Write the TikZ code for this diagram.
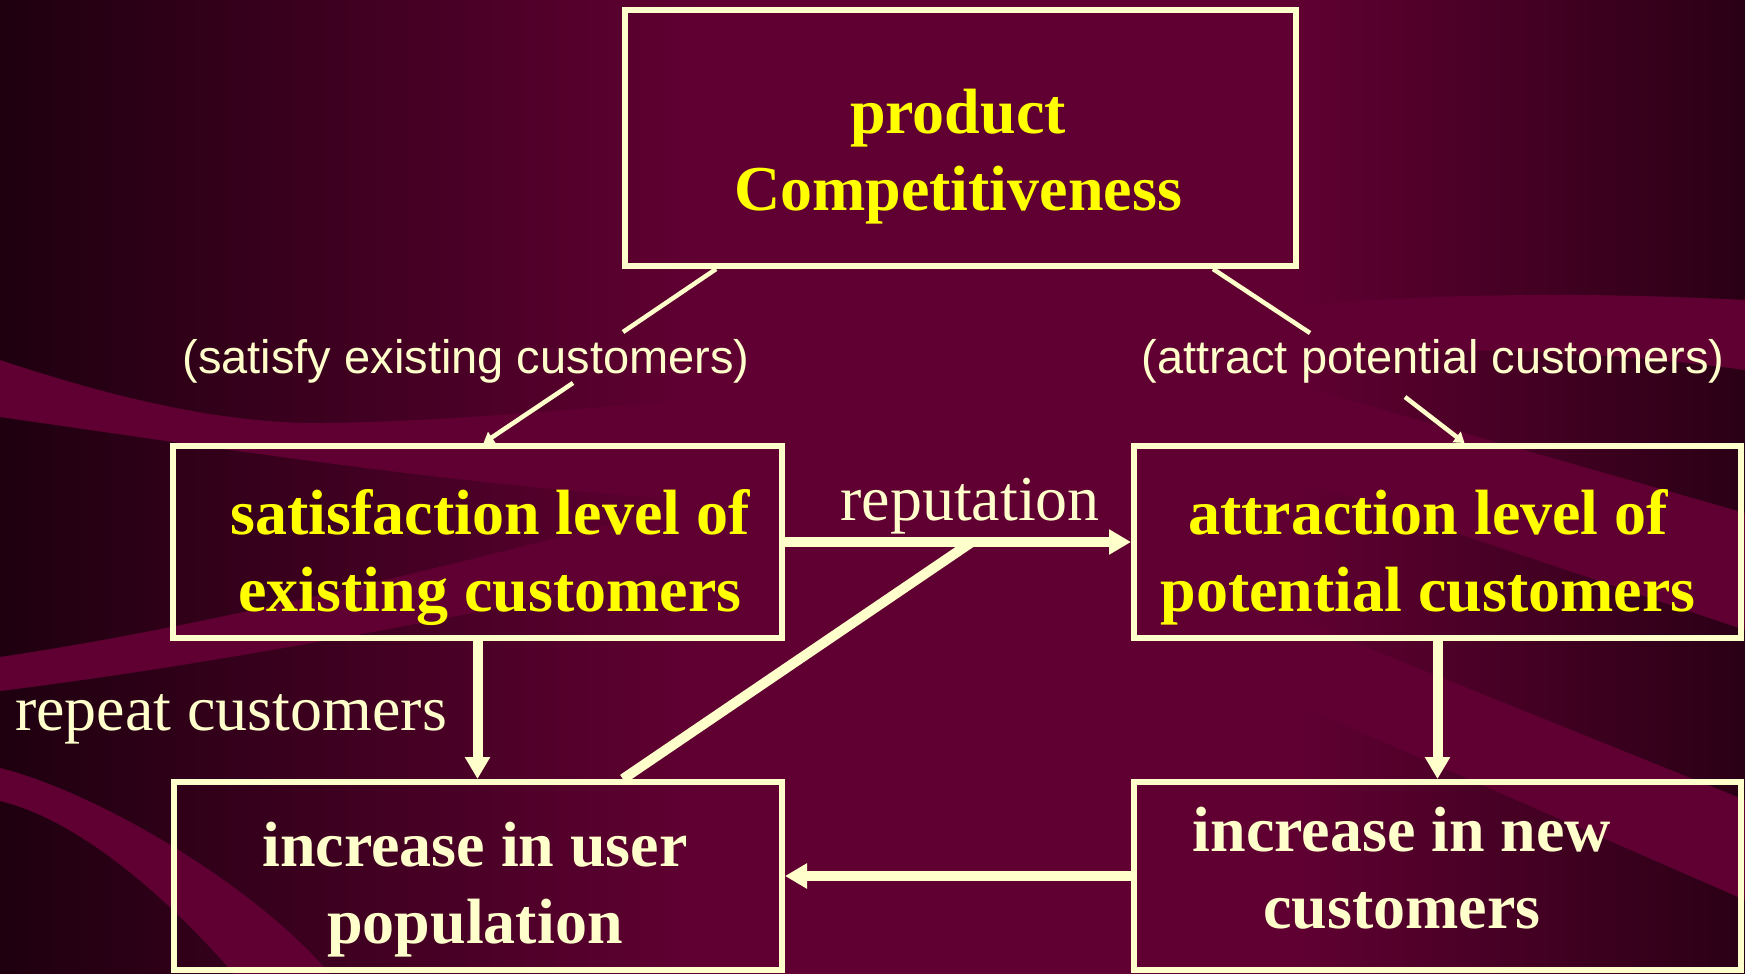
\documentclass[tikz,border=0pt]{standalone}
\usepackage{fontspec}
\setmainfont{Liberation Serif}
\newfontfamily\labelsans{Liberation Sans}
\usetikzlibrary{arrows.meta,calc}
\definecolor{cream}{HTML}{FFFFCC}
\definecolor{hiyellow}{HTML}{FFFF00}
\definecolor{bgedgeL}{HTML}{1E000F}
\definecolor{bgmid}{HTML}{600032}
\definecolor{bgedgeR}{HTML}{2A0015}
\definecolor{ribbonc}{HTML}{600032}
% slide background: dark at both edges, broad plateau in the middle
\pgfdeclarehorizontalshading{slidebg}{100bp}{color(0bp)=(bgedgeL); color(25bp)=(bgedgeL);
  color(45bp)=(bgmid); color(62bp)=(bgmid); color(75bp)=(bgedgeR); color(100bp)=(bgedgeR)}
\begin{document}
\begin{tikzpicture}[x=1pt,y=-1pt,
  boxframe/.style={draw=cream,line width=6pt,inner sep=0pt,outer sep=3pt},
  boxtext/.style={align=center,inner sep=0pt,font=\fontsize{64}{77}\selectfont\bfseries},
  serifnote/.style={text=cream,inner sep=0pt,anchor=base,font=\fontsize{64}{77}\selectfont},
  sansnote/.style={text=cream,inner sep=0pt,anchor=base,font=\labelsans\fontsize{47}{56}\selectfont},
  thinlink/.style={draw=cream,line width=4.5pt},
  thinarrow/.style={thinlink,-{Triangle[length=10pt,width=13pt]}},
  thicklink/.style={draw=cream,line width=10pt},
  thickarrow/.style={thicklink,-{Triangle[length=22pt,width=24pt]}},
  ribbon/.style={fill=ribbonc}
]
\useasboundingbox (0,0) rectangle (1745,974);

% background gradient and ribbons
\shade[shading=slidebg] (0,0) rectangle (1745,974);
% upper left ribbon
\path[ribbon] (0,360) .. controls (120,400) and (230,425) .. (330,423)
  .. controls (500,420) and (650,400) .. (900,385) -- (900,500)
  .. controls (650,515) and (300,460) .. (0,417) -- cycle;
% rising ribbon behind the left boxes
\path[ribbon] (0,657) .. controls (250,620) and (550,540) .. (820,470) -- (820,540)
  .. controls (550,600) and (250,660) .. (0,691) -- cycle;
% lower left sweep
\path[ribbon] (0,768) .. controls (90,790) and (250,880) .. (330,974) -- (234,974)
  .. controls (170,900) and (80,820) .. (0,801) -- cycle;
% upper right ribbon
\path[ribbon] (1745,300) .. controls (1450,285) and (1150,300) .. (850,390) -- (850,440)
  .. controls (1150,350) and (1450,330) .. (1745,370) -- cycle;
% diagonal ribbons on the right
\path[ribbon] (1250,372) -- (1745,513) -- (1745,630) -- (1150,430) -- cycle;
\path[ribbon] (1150,560) -- (1745,800) -- (1745,900) -- (1150,640) -- cycle;

% boxes
\node[boxframe,minimum width=671pt,minimum height=256pt] (prod) at (960.5,138) {};
\node[boxframe,minimum width=609pt,minimum height=192pt] (sat) at (477.5,542) {};
\node[boxframe,minimum width=607pt,minimum height=192pt] (att) at (1437.5,542) {};
\node[boxframe,minimum width=608pt,minimum height=188pt] (usr) at (478,876) {};
\node[boxframe,minimum width=607pt,minimum height=188pt] (new) at (1437.5,876) {};

% box texts
\node[boxtext,text=hiyellow] (prodtxt) at (958,156.6) {\strut product\\\strut Competitiveness};
\node[boxtext,text=hiyellow] (sattxt) at (490,557.1) {\strut satisfaction level of\\\strut existing customers};
\node[boxtext,text=hiyellow] (atttxt) at (1428,557.1) {\strut attraction level of\\\strut potential customers};
\node[boxtext,text=cream] (usrtxt) at (475,889.6) {\strut increase in user\\\strut population};
\node[boxtext,text=cream] (newtxt) at (1402,874.6) {\strut increase in new\\\strut customers};

% connector labels
\node[sansnote] (satlbl) at (466,373) {(satisfy existing customers)};
\node[sansnote] (attlbl) at (1433,373) {(attract potential customers)};
\node[serifnote] (replbl) at (970,520) {reputation};
\node[serifnote] (rptlbl) at (231,730) {repeat customers};

% ends of the broken connectors around the labels
\coordinate (satin) at (623,332);
\coordinate (satout) at (573,383);
\coordinate (attin) at (1310,333);
\coordinate (attout) at (1405,397);

\draw[thinlink] ($(prod.south west)!0.139!(prod.south east)$) -- (satin);
\draw[thinarrow] (satout) -- ($(sat.north)+(6,0)$);
\draw[thinlink] ($(prod.south west)!0.873!(prod.south east)$) -- (attin);
\draw[thinarrow] (attout) -- ($(att.north)+(27,0)$);

% main flows
\coordinate (repjoin) at ($(sat.east)!0.54!(att.west)$);
\draw[thickarrow] (sat.east) -- (att.west);
\draw[thicklink] ($(usr.north west)!0.736!(usr.north east)$) -- (repjoin);
\draw[thickarrow] (sat.south) -- (sat.south |- usr.north);
\draw[thickarrow] (att.south) -- (att.south |- new.north);
\draw[thickarrow] (new.west) -- (usr.east);
\end{tikzpicture}
\end{document}
